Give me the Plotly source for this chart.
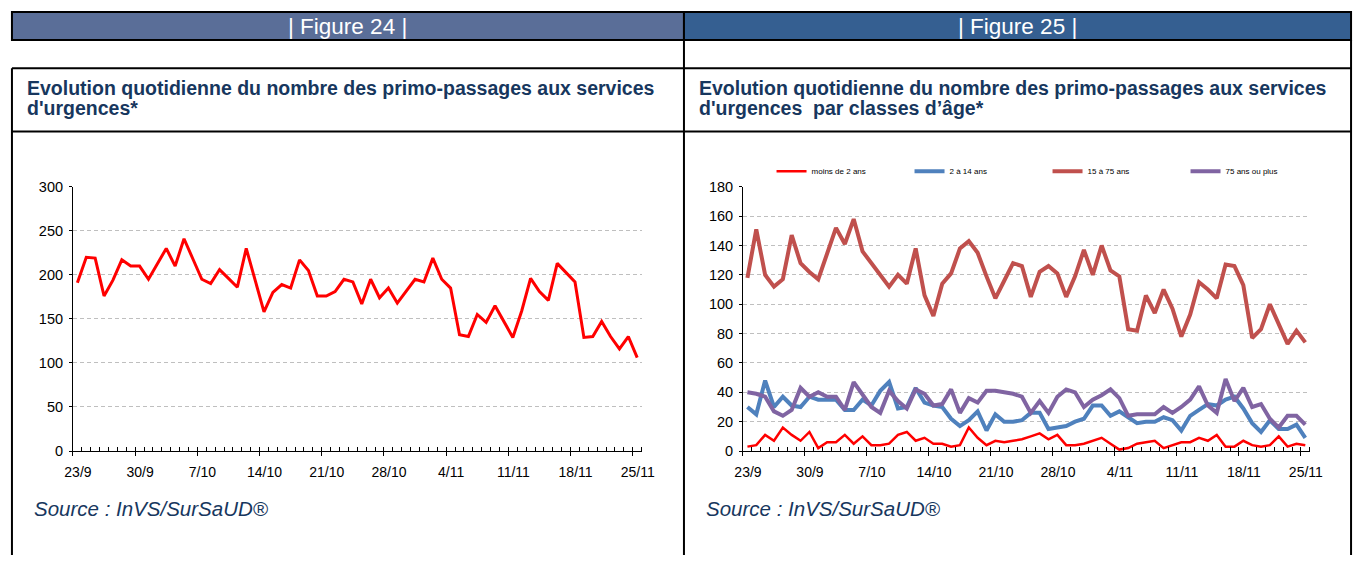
import plotly.graph_objects as go

W, H = 1367, 563

# daily data, 23/9 -> 25/11 (64 days)
week_labels = ["23/9", "30/9", "7/10", "14/10", "21/10", "28/10", "4/11", "11/11", "18/11", "25/11"]

total = [191, 220, 219, 176, 194, 217, 210, 210, 195, 212, 230, 210, 241, 218, 195, 190,
         206, 196, 186, 230, 193, 158, 180, 189, 185, 217, 205, 176, 176, 181, 195, 192,
         167, 195, 174, 185, 168, 182, 195, 192, 219, 195, 185, 132, 130, 155, 146, 165,
         147, 129, 159, 196, 181, 171, 213, 203, 192, 129, 130, 147, 130, 116, 130, 106]

moins_2 = [3, 4, 11, 7, 16, 11, 7, 13, 2, 6, 6, 11, 5, 10, 4, 4,
           5, 11, 13, 7, 9, 5, 5, 3, 4, 16, 9, 4, 7, 6, 7, 8,
           10, 12, 8, 11, 4, 4, 5, 7, 9, 5, 1, 2, 5, 6, 7, 2,
           4, 6, 6, 9, 7, 11, 3, 3, 7, 4, 3, 4, 10, 3, 5, 4]

de_2_14 = [30, 25, 48, 30, 37, 31, 30, 37, 35, 35, 35, 28, 28, 35, 31, 41,
           47, 29, 30, 43, 33, 31, 30, 22, 17, 21, 27, 14, 25, 20, 20, 21,
           26, 26, 15, 16, 17, 20, 22, 31, 31, 24, 27, 23, 19, 20, 20, 23,
           21, 14, 24, 28, 32, 31, 35, 37, 29, 19, 13, 21, 15, 15, 18, 9]

de_15_75 = [118, 151, 120, 112, 117, 147, 128, 122, 117, 134, 152, 141, 158, 136, 128, 119,
            112, 120, 114, 138, 106, 92, 114, 121, 138, 143, 135, 119, 104, 116, 128, 126,
            105, 122, 126, 121, 105, 119, 137, 120, 140, 123, 119, 83, 82, 106, 94, 110,
            97, 78, 93, 115, 110, 104, 127, 126, 113, 77, 83, 100, 87, 73, 82, 74]

plus_75 = [40, 39, 37, 27, 24, 28, 43, 37, 40, 37, 37, 28, 47, 39, 30, 26,
           41, 34, 29, 42, 39, 31, 32, 42, 26, 36, 33, 41, 41, 40, 39, 37,
           26, 34, 26, 37, 42, 40, 30, 35, 38, 42, 36, 24, 25, 25, 25, 30,
           26, 30, 35, 44, 31, 26, 49, 34, 43, 30, 32, 22, 16, 24, 24, 18]

days = list(range(len(total)))
week_ticks = [7 * k - 0.5 for k in range(len(week_labels))]

NAVY = "#17375E"
FONT = "Liberation Sans, Arial, sans-serif"


def px(x):
    return x / W


def py(y):
    return 1 - y / H


fig = go.Figure()

fig.add_trace(go.Scatter(x=days, y=total, mode="lines", name="total",
                         line=dict(color="#FF0000", width=3), showlegend=False,
                         xaxis="x", yaxis="y"))

age_series = [
    ("moins de 2 ans", moins_2, "#FF0000", 2.5),
    ("2 à 14 ans", de_2_14, "#4F81BD", 4),
    ("15 à 75 ans", de_15_75, "#C0504D", 4),
    ("75 ans ou plus", plus_75, "#8064A2", 4),
]
for name, vals, color, width in age_series:
    fig.add_trace(go.Scatter(x=days, y=vals, mode="lines", name=name,
                             line=dict(color=color, width=width),
                             xaxis="x2", yaxis="y2"))


def x_axis(domain, anchor):
    return dict(
        domain=domain, anchor=anchor, range=[-0.5, len(days) - 0.5],
        tickmode="array", tickvals=week_ticks, ticktext=week_labels,
        ticks="outside", ticklen=4, tickcolor="black", tickwidth=1,
        ticklabelshift=5, ticklabelstandoff=4,
        minor=dict(tick0=-0.5, dtick=1, ticks="inside", ticklen=4,
                   tickcolor="black", tickwidth=1, showgrid=False),
        showline=True, linecolor="black", linewidth=1,
        showgrid=False, zeroline=False,
        tickfont=dict(size=14, color="black", family=FONT),
        fixedrange=True,
    )


def y_axis(top, step, anchor):
    return dict(
        domain=[py(456), py(184)], range=[0, top], dtick=step, anchor=anchor,
        showline=True, linecolor="black", linewidth=1,
        ticks="outside", ticklen=3, tickcolor="black", ticklabelstandoff=3,
        showgrid=True, gridcolor="#BFBFBF", griddash="4px,3px", gridwidth=1,
        zeroline=False, tickfont=dict(size=14.5, color="black", family=FONT),
        fixedrange=True,
    )


line_k = dict(color="black", width=2)
shapes = [
    # header bars
    dict(type="rect", xref="paper", yref="paper", x0=px(3), x1=px(686), y0=py(33), y1=py(4),
         fillcolor="#5A6E98", line=line_k),
    dict(type="rect", xref="paper", yref="paper", x0=px(686), x1=px(1364), y0=py(33), y1=py(4),
         fillcolor="#355F91", line=line_k),
    # frame
    dict(type="line", xref="paper", yref="paper", x0=px(686), x1=px(686), y0=py(33), y1=0, line=line_k),
    dict(type="line", xref="paper", yref="paper", x0=px(1364), x1=px(1364), y0=py(33), y1=0, line=line_k),
    dict(type="line", xref="paper", yref="paper", x0=px(3), x1=px(3), y0=py(62), y1=0, line=line_k),
    dict(type="line", xref="paper", yref="paper", x0=px(3), x1=px(1364), y0=py(62), y1=py(62), line=line_k),
    dict(type="line", xref="paper", yref="paper", x0=px(3), x1=px(1364), y0=py(127), y1=py(127), line=line_k),
]


def note(x, y, text, size, color, anchor="left", bold=False, italic=False):
    if bold:
        text = "<b>" + text + "</b>"
    if italic:
        text = "<i>" + text + "</i>"
    return dict(xref="paper", yref="paper", x=px(x), y=py(y), text=text,
                showarrow=False, xanchor=anchor, yanchor="middle",
                font=dict(size=size, color=color, family=FONT))


title_txt = "Evolution quotidienne du nombre des primo-passages aux services"
annotations = [
    note(344, 19, "| Figure 24 |", 22.5, "white", anchor="center"),
    note(1025, 19, "| Figure 25 |", 22.5, "white", anchor="center"),
]
for x0, second in [(16, "d'urgences*"), (699, "d'urgences  par classes d’âge*")]:
    annotations.append(note(x0, 82.5, title_txt, 19.5, NAVY, bold=True))
    annotations.append(note(x0, 103, second, 19.5, NAVY, bold=True))
    annotations.append(note(x0 + 7, 515.5, "Source : InVS/SurSaUD®", 20.5, NAVY, italic=True))

fig.update_layout(
    width=W, height=H,
    margin=dict(l=0, r=0, t=0, b=0),
    paper_bgcolor="white", plot_bgcolor="white",
    font=dict(family=FONT, color="black"),
    xaxis=x_axis([px(65), px(643)], "y"),
    yaxis=y_axis(300, 50, "x"),
    xaxis2=x_axis([px(746), px(1322)], "y2"),
    yaxis2=y_axis(180, 20, "x2"),
    showlegend=True,
    legend=dict(orientation="h", x=px(775), y=py(168), xanchor="left", yanchor="middle",
                entrywidth=93, font=dict(size=8, color="black", family=FONT),
                bgcolor="rgba(0,0,0,0)"),
    shapes=shapes,
    annotations=annotations,
)

# drop the default page margin so the figure sits in the window corner
fix_page = ("document.documentElement.style.margin='0';document.documentElement.style.overflow='hidden';"
            "document.body.style.margin='0';document.body.style.padding='0';"
            "var d=document.getElementById('{plot_id}');"
            "if(d&&d.parentElement){d.parentElement.style.margin='0';d.parentElement.style.padding='0';}")
fig.write_html("out.html", post_script=fix_page, config={"displayModeBar": False})
